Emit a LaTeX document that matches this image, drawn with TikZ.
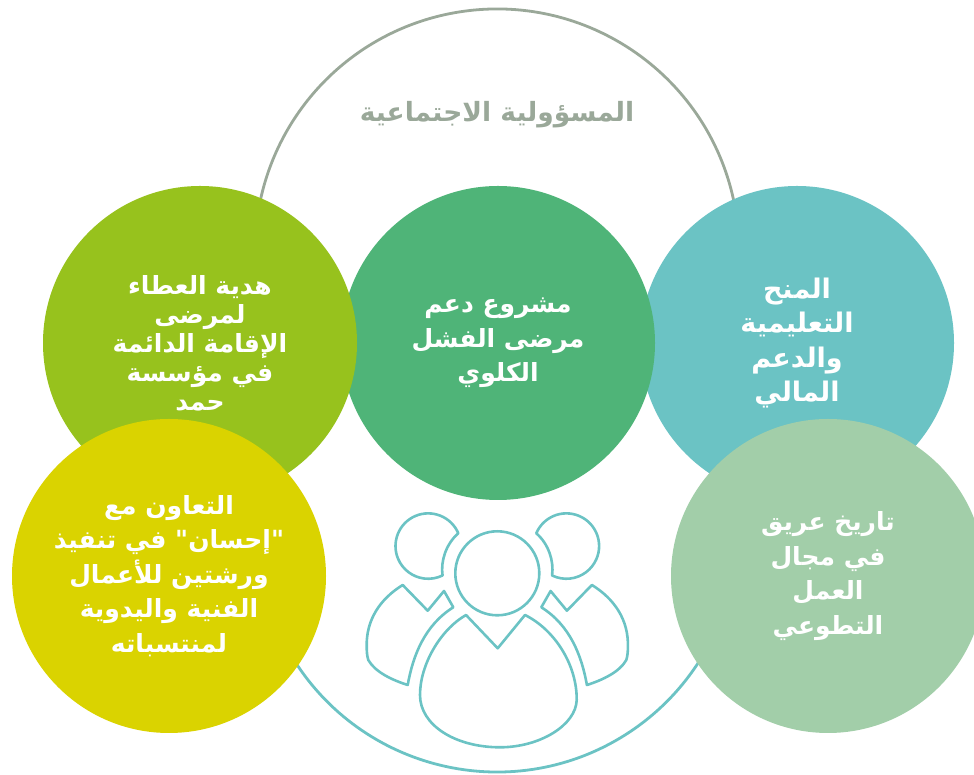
\documentclass[tikz,border=0pt]{standalone}
\usepackage{fontspec}
\newfontfamily\arabicfont[Script=Arabic]{DejaVu Sans}
\TeXXeTstate=1
\newcommand{\AR}[1]{\beginR #1\endR}
\definecolor{ringgrey}{HTML}{9AA899}
\definecolor{ringteal}{HTML}{6BC3C4}
\definecolor{discolive}{HTML}{97C21D}
\definecolor{discgreen}{HTML}{4FB478}
\definecolor{discteal}{HTML}{6BC3C4}
\definecolor{disclime}{HTML}{DAD300}
\definecolor{discpale}{HTML}{A2CEA9}
\tikzset{
  disc/.style={circle, minimum size=314pt, inner sep=0pt, text=white, align=center,
    font=\arabicfont\bfseries\fontsize{25}{34.5}\selectfont},
  person/.style={draw=ringteal, line width=2.6pt, line join=round}
}

\begin{document}
\begin{tikzpicture}[x=1pt, y=1pt]

  \newcommand\sidehead{(458.3,241.7) arc (23:296:32.7)
    .. controls (440.5,214) and (446,231) .. (458.3,241.7) -- cycle}
  \newcommand\sidebody{(402.7,190) -- (427.7,164.3) -- (444,184) -- (453.3,167.7)
    .. controls (425,150) and (413,120) .. (407.7,90)
    .. controls (392,95) and (375,103) .. (368.3,115)
    .. controls (367,119) and (366.7,124) .. (366.7,128.3)
    .. controls (366,155) and (380,176) .. (402.7,190) -- cycle}

  \useasboundingbox (0,0) rectangle (974,775);

  \coordinate (ringtop) at (497,524);
  \coordinate (ringlow) at (497,243);
  \draw[ringgrey, line width=2.8pt] (ringtop) +(10:242) arc (10:170:242);
  \draw[ringteal, line width=2.8pt] (ringlow) +(210:240) arc (210:330:240);

  \node[disc, fill=discteal, font=\arabicfont\bfseries\fontsize{27}{34.5}\selectfont] (grants) at (797,432)
    {\AR{المنح}\\\AR{التعليمية}\\\AR{والدعم}\\\AR{المالي}};
  \node[disc, fill=discgreen] (kidney) at (498,432)
    {\AR{مشروع دعم}\\\AR{مرضى الفشل}\\\AR{الكلوي}};
  \node[disc, fill=discolive, font=\arabicfont\bfseries\fontsize{25}{29}\selectfont] (gift) at (200,432)
    {\AR{هدية العطاء}\\\AR{لمرضى}\\\AR{الإقامة الدائمة}\\\AR{في مؤسسة}\\\AR{حمد}};
  \node[disc, fill=disclime] (ihsan) at (169,199)
    {\AR{التعاون مع}\\\AR{"إحسان" في تنفيذ}\\\AR{ورشتين للأعمال}\\\AR{الفنية واليدوية}\\\AR{لمنتسباته}};
  \node[disc, fill=discpale] (history) at (828,199)
    {\AR{تاريخ عريق}\\\AR{في مجال}\\\AR{العمل}\\\AR{التطوعي}};

  \node[ringgrey, font=\arabicfont\bfseries\fontsize{26.5}{30}\selectfont] (title) at (497,660)
    {\AR{المسؤولية الاجتماعية}};

  % people
  \draw[person] (497.3,201.7) circle (42);
  \draw[person] (466,160) -- (497.7,126.7) -- (525,160)
    .. controls (555,145) and (577,110) .. (576.7,75)
    .. controls (576,50) and (540,27.7) .. (500,27.7)
    .. controls (455,27.7) and (420,50) .. (420,80)
    .. controls (420,110) and (440,145) .. (466,160) -- cycle;
  \draw[person] \sidehead;
  \draw[person] \sidebody;
  \begin{scope}[shift={(994.6,0)}, xscale=-1]
    \draw[person] \sidehead;
    \draw[person] \sidebody;
  \end{scope}

\end{tikzpicture}
\end{document}
